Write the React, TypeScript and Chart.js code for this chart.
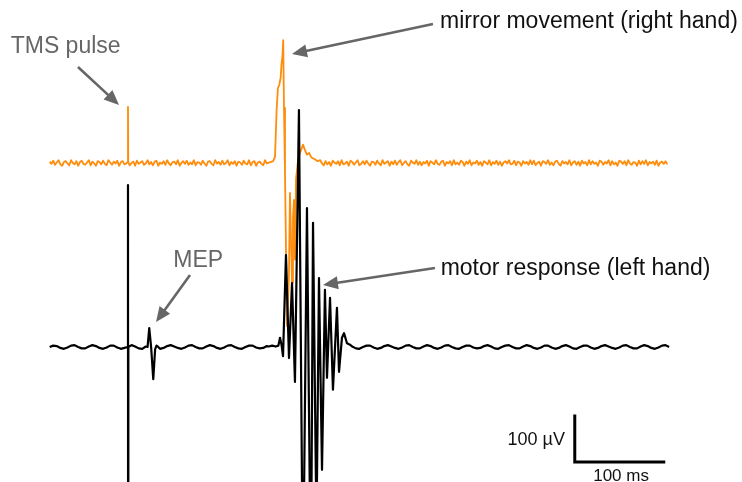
import React, { useEffect, useRef } from "react";
import { Chart, registerables } from "chart.js";

Chart.register(...registerables);

// ---- sampling of the baseline recordings (ms after TMS, µV) ----
const SAMPLE_START_MS = -88;
const ORANGE_STEP_MS = 2;
const BLACK_STEP_MS = 4;

// high-frequency noise on the right-hand (orange) EMG baseline, µV
const orangeNoise = [
  3, -2, 5, -4, 1, 6, -3, -6, 2, 4, -1, -5, 6, 0, -3, 4, -6, 2, 5, -2,
  -4, 1, 6, -5, 3, -1, -6, 4, 2, -3, 5, -2, -5, 6, 1, -4, 3, -1, 5, -6,
  2, 4, -3, -1, 6, -5, 0, 3, -6, 5, -2, 1, 4, -4, -1, 6, -3, 2, -5, 3,
  5, -6, 1, -2, 4, -4, 6, -1, -5, 2, 3, -3, 6, -6, 0, 4, -2, 5, -4, 1,
  -3, 6, -5, 2, 1, -4, 5, -1, -6, 3, 4, -2, -5, 6, -1, 2, -4, 5, -3, 0,
  6, -5, 2, -2, 4, -6, 3, 1, -4, 5, -1, -3, 6, -5, 2, 4, -6, 1, 3, -2,
  -5, 6, -1, 2, -4, 5, -6, 3, 0, -3, 4, -5, 6, -2, 1, -4, 5, -6, 2, 3,
  -1, -5, 6, -3, 4, -2, 1, 5, -6, 2, -4, 3, 6, -1, -5, 4, -3, 2, -6, 5,
  1, -2, 4, -5, 6, -3, -1, 3, -6, 5, 2, -4, 1, 6, -5, -2, 4, -3, 5, -1,
  -6, 3, 2, -4, 5, -1, -5, 6, -2, 1, 4, -6, 3, -3, 5, -4, 2, 6, -5, 0,
  4, -3, -6, 5, 1, -2, 6, -4, 3, -5, 2, -1, 5, -6, 4, 1, -3, 6, -2, -4,
  3, 5, -6, 2, -1, 4, -5, 6, -3, 1, -4, 5, 2, -6, 3, -2, 6, -5, 1, -1,
  5, -4, 2, -6, 4, 1, -3, 6, -5, 2, -2, 5, -4, 3, -6, 1, 4, -1, 6, -3,
  -2, 5, -5, 3, 1, -6, 4, -1, 2, -4, 6, -3, 5, -5, 0, 3, -6, 4, 2, -2,
  6, -4, 1, -5, 3, 5, -2, -6, 4, -1, 2, -3, 6, -5, 1, 4, -4, 3, -6, 5,
  -1, 2, -5, 6, -3, 4, -2, 1, -6, 5, 3, -4, 2, -1, 6, -5, 4, -3, 1, -6,
  5, 3, -2, 4, -5, 6, -1, -4, 2, 1, -6, 5, -3, 4, -2, 6, -5, 2, -1, 3,
  -4, 5, -6, 1, 3, -2, 4, -3,
];

// slow wobble on the left-hand (black) EMG baseline, µV
const blackNoise = [
  0, 3, 2, -2, -4, -1, 3, 4, 0, -3, -3, 1, 4, 2, -2, -4, -1, 3, 3, -1,
  -4, -2, 2, 4, 1, -3, -4, 0, 3, 3, -1, -4, -2, 2, 4, 1, -2, -4, -1, 3,
  4, 0, -3, -3, 1, 4, 2, -2, -4, -1, 3, 4, 0, -3, -4, 0, 3, 3, -1, -3,
  -2, 2, 4, 1, -3, -4, 0, 3, 4, 0, -3, -3, 1, 4, 2, -2, -4, -1, 3, 3,
  -1, -4, -2, 2, 4, 1, -3, -4, 0, 3, 3, -1, -4, -2, 2, 4, 1, -2, -4, -1,
  3, 4, 0, -3, -3, 1, 4, 2, -2, -4, -1, 3, 4, 0, -3, -4, 0, 3, 3, -1,
  -3, -2, 2, 4, 1, -3, -4, 0, 3, 4, 0, -3, -3, 1, 4, 2, -2, -4, -1, 3,
  3, -1, -4, -2, 2, 4, 1, -3, -4, 0, 3, 3, -1, -4, -2, 2, 4, 1, -2, -4,
  -1, 3, 4, 0, -3, -3, 1, 4, 2, -2, -4, -1, 3, 4, 0,
];

// ---- events (ms after TMS, µV) ----
const orangeTmsTimes = [-0.3, 0, 0.3];
const orangeTmsValues = [2, 122, 1];

const mirrorTimes = [
  160, 163, 165.2, 167.1, 168.5, 170, 171.5, 172.6, 173.5, 174.4,
  175.3, 176.4, 178.7, 180.9, 182.0, 184.3, 185.4, 186.5, 187.6, 188.8,
  191.0, 193.3, 196.6, 198.9, 201.1, 203.4, 206, 210, 213,
];
const mirrorValues = [
  2, 4, 13, 120, 163, 170, 185, 217, 230, 267,
  120, -20, -355, -240, -65, -260, -120, -80, -210, -35,
  5, 22, 40, 28, 18, 22, 12, 8, 4,
];

const artifactTimes = [-0.3, 0, 0.15, 0.4];
const artifactValues = [0, 352, -600, 0];

const mepTimes = [20, 22, 23.9, 26, 28.4, 30.5, 32, 34];
const mepValues = [1, 0, 41, 0, -70, -5, 3, 0];

const motorTimes = [
  158, 162, 166, 169, 170.8, 172.5, 174.2, 177.5, 180.9, 184.3,
  187.6, 192.1, 196.6, 201.1, 205.5, 207.9, 211.8, 214.6, 218.0, 221.3,
  223.6, 227.0, 230.3, 234.8, 237.1, 240.4, 242.7, 246.1, 249.4,
];
const motorValues = [
  1, 3, 1, 3, 20, 5, -20, 200, -24, 139,
  -76, 515, -550, 302, -550, 270, -398, 150, -267, 124,
  -67, 107, -93, 85, -54, 20, 30, 8, 5,
];

const ORANGE_OFFSET = 400; // vertical separation of the two traces, µV

// calibration bar: 100 µV / 100 ms
const scaleBarTimes = [502, 502, 602];
const scaleBarValues = [-150, -250, -250];

const ORANGE = "#ff8c0a";
const GREY = "#666666";

type Pt = { x: number; y: number };

function buildTrace(
  noise: number[],
  step: number,
  windows: [number, number][],
  events: [number[], number[]][],
  offset: number
): Pt[] {
  const pts: Pt[] = [];
  noise.forEach((v, i) => {
    const t = SAMPLE_START_MS + i * step;
    if (windows.some(([a, b]) => t >= a && t <= b)) return;
    pts.push({ x: t, y: v + offset });
  });
  events.forEach(([ts, vs]) => {
    ts.forEach((t, i) => pts.push({ x: t, y: vs[i] + offset }));
  });
  pts.sort((a, b) => a.x - b.x);
  return pts;
}

const texts = [
  { text: "TMS pulse", t: -131.8, v: 638.5, color: GREY, size: 23, align: "left" },
  { text: "mirror movement (right hand)", t: 350.6, v: 693.5, color: "#111", size: 23, align: "left" },
  { text: "motor response (left hand)", t: 351.3, v: 156.5, color: "#111", size: 23, align: "left" },
  { text: "MEP", t: 50.9, v: 174.6, color: GREY, size: 23, align: "left" },
  { text: "100 \u00b5V", t: 491, v: -213, color: "#111", size: 18, align: "right" },
  { text: "100 ms", t: 554, v: -291, color: "#111", size: 17, align: "center" },
];

const arrows = [
  { from: [-56.2, 608.7], to: [-10.1, 526.1] },
  { from: [342.7, 702.2], to: [184.3, 637] },
  { from: [344.9, 171.7], to: [219.1, 134.8] },
  { from: [69.7, 156.5], to: [31.5, 54.3] },
];

const annotationPlugin = {
  id: "annotations",
  afterDatasetsDraw(chart: any) {
    const ctx = chart.ctx as CanvasRenderingContext2D;
    const xs = chart.scales.x;
    const ys = chart.scales.y;
    ctx.save();
    arrows.forEach((a) => {
      const x1 = xs.getPixelForValue(a.from[0]);
      const y1 = ys.getPixelForValue(a.from[1]);
      const x2 = xs.getPixelForValue(a.to[0]);
      const y2 = ys.getPixelForValue(a.to[1]);
      const ang = Math.atan2(y2 - y1, x2 - x1);
      const hl = 15;
      const hw = 6.5;
      const bx = x2 - hl * Math.cos(ang);
      const by = y2 - hl * Math.sin(ang);
      ctx.strokeStyle = GREY;
      ctx.fillStyle = GREY;
      ctx.lineWidth = 2.6;
      ctx.beginPath();
      ctx.moveTo(x1, y1);
      ctx.lineTo(bx + 2 * Math.cos(ang), by + 2 * Math.sin(ang));
      ctx.stroke();
      ctx.beginPath();
      ctx.moveTo(x2, y2);
      ctx.lineTo(bx + hw * Math.sin(ang), by - hw * Math.cos(ang));
      ctx.lineTo(bx - hw * Math.sin(ang), by + hw * Math.cos(ang));
      ctx.closePath();
      ctx.fill();
    });
    texts.forEach((t) => {
      ctx.font = `${t.size}px "Liberation Sans", Arial, sans-serif`;
      ctx.fillStyle = t.color;
      ctx.textAlign = t.align as CanvasTextAlign;
      ctx.textBaseline = "alphabetic";
      ctx.fillText(t.text, xs.getPixelForValue(t.t), ys.getPixelForValue(t.v));
    });
    ctx.restore();
  },
};

export default function App() {
  const ref = useRef<HTMLCanvasElement | null>(null);
  useEffect(() => {
    if (!ref.current) return;
    const black = buildTrace(
      blackNoise,
      BLACK_STEP_MS,
      [[-1, 1], [19, 35], [157, 251]],
      [[artifactTimes, artifactValues], [mepTimes, mepValues], [motorTimes, motorValues]],
      0
    );
    const orange = buildTrace(
      orangeNoise,
      ORANGE_STEP_MS,
      [[-1, 1], [158, 214]],
      [[orangeTmsTimes, orangeTmsValues], [mirrorTimes, mirrorValues]],
      ORANGE_OFFSET
    );
    const bar = scaleBarTimes.map((t, i) => ({ x: t, y: scaleBarValues[i] }));
    const chart = new Chart(ref.current, {
      type: "line",
      data: {
        datasets: [
          { data: bar, borderColor: "#000", borderWidth: 3, pointRadius: 0, tension: 0, borderCapStyle: "square", borderJoinStyle: "miter" } as any,
          { data: black, borderColor: "#000", borderWidth: 2.2, pointRadius: 0, tension: 0, borderJoinStyle: "round" } as any,
          { data: orange, borderColor: ORANGE, borderWidth: 1.8, pointRadius: 0, tension: 0, borderJoinStyle: "round" } as any,
        ],
      },
      options: {
        animation: false,
        responsive: false,
        maintainAspectRatio: false,
        layout: { padding: 0 },
        plugins: { legend: { display: false }, tooltip: { enabled: false } },
        scales: {
          x: { type: "linear", display: false, min: -143.8, max: 689.9 },
          y: { type: "linear", display: false, min: -293.5, max: 754.3 },
        },
      },
      plugins: [annotationPlugin],
    });
    return () => chart.destroy();
  }, []);
  return (
    <div style={{ position: "absolute", left: 0, top: 0, width: 742, height: 482, background: "#fff" }}>
      <canvas ref={ref} width={742} height={482} />
    </div>
  );
}
